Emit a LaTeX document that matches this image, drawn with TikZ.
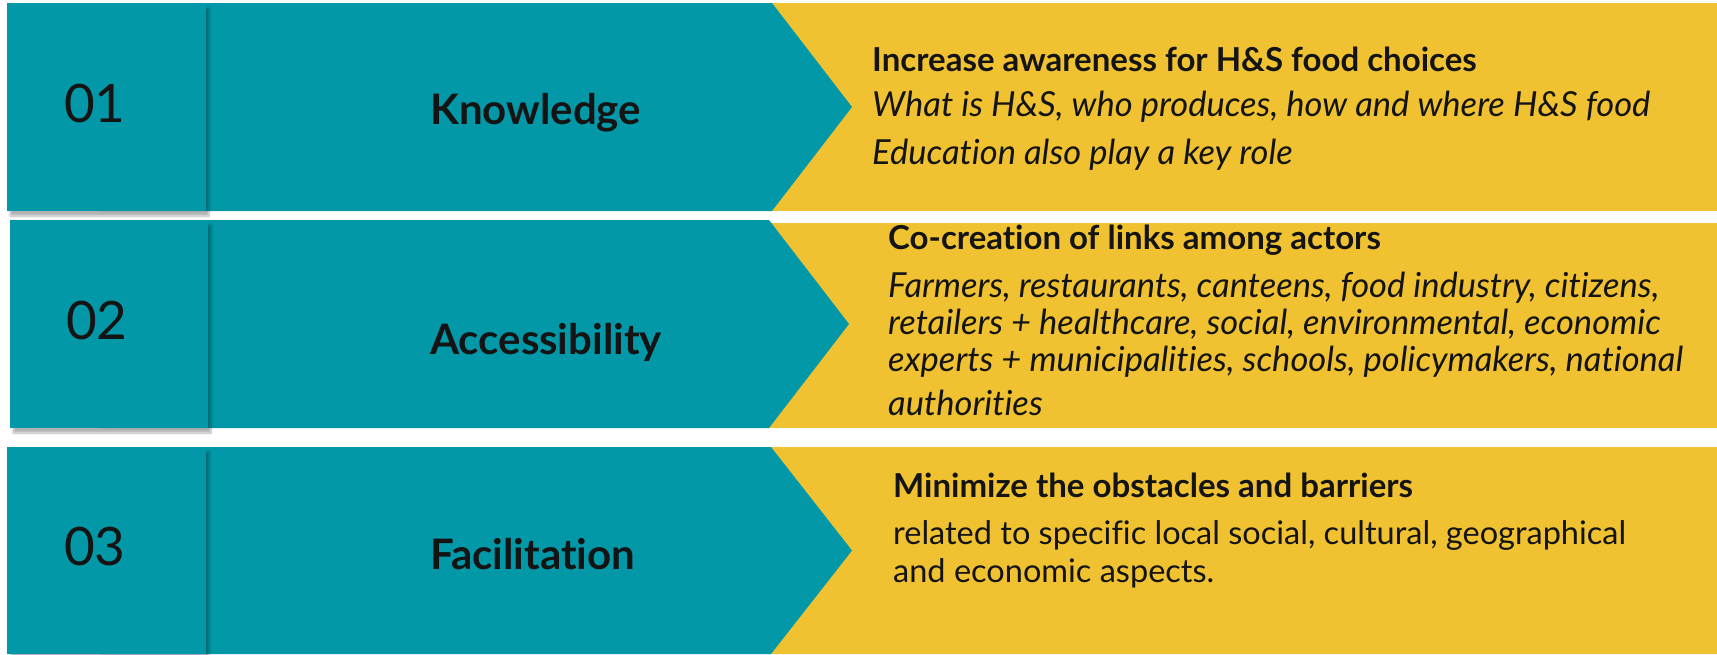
\documentclass[tikz,border=0pt]{standalone}
\usepackage{fontspec}
\setmainfont{Lato}[Ligatures=NoCommon]
\usetikzlibrary{shadows.blur}

\definecolor{tealband}{HTML}{0298A7}
\definecolor{mustard}{HTML}{F0C232}
\definecolor{ink}{HTML}{141414}

\begin{document}
\begin{tikzpicture}[x=1pt,y=-1pt,
  numbox/.style={fill=tealband, blur shadow={shadow xshift=3pt, shadow yshift=-5pt, shadow blur steps=10, shadow opacity=30}},
  band/.style={fill=tealband},
  panel/.style={fill=mustard},
  num/.style={anchor=base west, inner sep=0pt, text=ink, font=\fontsize{53}{60}\selectfont},
  topic/.style={anchor=base west, inner sep=0pt, text=ink, font=\fontsize{42}{50}\selectfont\bfseries},
  head/.style={anchor=base west, inner sep=0pt, text=ink, font=\fontsize{33}{40}\selectfont\bfseries},
  body/.style={anchor=base west, inner sep=0pt, text=ink, font=\fontsize{34.5}{40}\selectfont\itshape},
  plain/.style={anchor=base west, inner sep=0pt, text=ink, font=\fontsize{32.5}{40}\selectfont}]

  % page size
  \useasboundingbox (0,0) rectangle (1717,654);

  % yellow panels on the right
  \fill[panel] (760,3) rectangle (1717,211);
  \fill[panel] (760,223) rectangle (1717,428);
  \fill[panel] (760,447) rectangle (1717,654);

  % teal arrows
  \fill[band] (100,3) -- (772,3) -- (852,107) -- (772,211) -- (100,211) -- cycle;
  \fill[band] (100,220) -- (769,220) -- (849,324) -- (769,428) -- (100,428) -- cycle;
  \fill[band] (100,447) -- (771,447) -- (852,550.5) -- (771,654) -- (100,654) -- cycle;

  % number squares with a soft shadow
  \path[numbox] (7,3) rectangle (206,211);
  \path[numbox] (10,220) rectangle (208,428);
  \path[numbox] (7,447) rectangle (206,654);

  % numbers and topics
  \node[num] (n1) at (64,122) {01};
  \node[num] (n2) at (66,339) {02};
  \node[num] (n3) at (64,565) {03};

  \node[topic] (knowledge) at (430,124) {Knowledge};
  \node[topic] (access) at (430,354) {Accessibility};
  \node[topic] (facil) at (430,569) {Facilitation};

  % first panel
  \node[head] (h1) at (872,71) {Increase awareness for H\&S food choices};
  \node[body] (b11) at (872,116) {What is H\&S, who produces, how and where H\&S food};
  \node[body] (b12) at (872,164) {Education also play a key role};

  % second panel
  \node[head] (h2) at (888,249) {Co-creation of links among actors};
  \node[body] (b21) at (888,297) {Farmers, restaurants, canteens, food industry, citizens,};
  \node[body] (b22) at (888,334) {retailers + healthcare, social, environmental, economic};
  \node[body] (b23) at (888,371) {experts + municipalities, schools, policymakers, national};
  \node[body] (b24) at (888,415) {authorities};

  % third panel
  \node[head] (h3) at (893,497) {Minimize the obstacles and barriers};
  \node[plain] (b31) at (893,544) {related to specific local social, cultural, geographical};
  \node[plain] (b32) at (893,582) {and economic aspects.};

\end{tikzpicture}
\end{document}
